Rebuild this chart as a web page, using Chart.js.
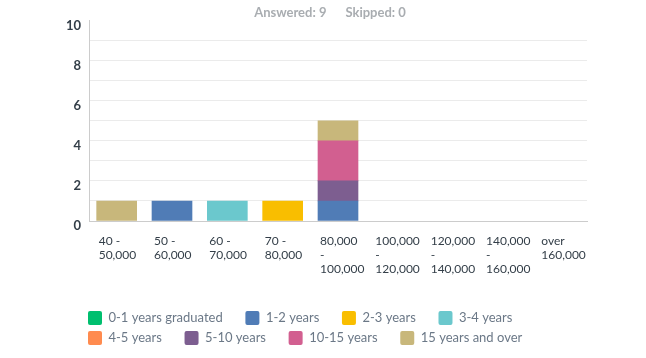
<!DOCTYPE html>
<html>
<head>
<meta charset="utf-8">
<script src="https://cdn.jsdelivr.net/npm/chart.js@4"></script>
<style>
  html, body { margin: 0; padding: 0; background: #fff; }
  #wrap { width: 646px; height: 358px; }
</style>
</head>
<body>
<div id="wrap"><canvas id="myChart"></canvas></div>
<script>
const labels = [
  ['40 -', '50,000'],
  ['50 -', '60,000'],
  ['60 -', '70,000'],
  ['70 -', '80,000'],
  ['80,000', '-', '100,000'],
  ['100,000', '-', '120,000'],
  ['120,000', '-', '140,000'],
  ['140,000', '-', '160,000'],
  ['over', '160,000']
];

const seriesNames = ['0-1 years graduated', '1-2 years', '2-3 years', '3-4 years',
  '4-5 years', '5-10 years', '10-15 years', '15 years and over'];
const seriesColors = ['#00bf6f', '#507cb6', '#f9be00', '#6bc8cd',
  '#ff8b4f', '#7d5e90', '#d25f90', '#c8b77b'];

const grad01 = [0, 0, 0, 0, 0, 0, 0, 0, 0];
const y12 = [0, 1, 0, 0, 1, 0, 0, 0, 0];
const y23 = [0, 0, 0, 1, 0, 0, 0, 0, 0];
const y34 = [0, 0, 1, 0, 0, 0, 0, 0, 0];
const y45 = [0, 0, 0, 0, 0, 0, 0, 0, 0];
const y510 = [0, 0, 0, 0, 1, 0, 0, 0, 0];
const y1015 = [0, 0, 0, 0, 2, 0, 0, 0, 0];
const y15plus = [1, 0, 0, 0, 1, 0, 0, 0, 0];
const seriesValues = [grad01, y12, y23, y34, y45, y510, y1015, y15plus];

const answered = 9;
const skipped = 0;

const data = {
  labels: labels,
  datasets: seriesNames.map((name, i) => ({
    label: name,
    // empty cells are left out so no zero-height bars get drawn
    data: seriesValues[i].map(v => (v === 0 ? null : v)),
    backgroundColor: seriesColors[i],
    borderWidth: 0,
    barThickness: 40
  }))
};

// move title/legend a bit to sit where the original has them
const nudge = {
  id: 'nudge',
  afterLayout(chart) {
    chart.legend.left -= 7;
    chart.legend.right -= 7;
    chart.titleBlock.left -= 8;
    chart.titleBlock.right -= 8;
  }
};

const config = {
  type: 'bar',
  data: data,
  plugins: [nudge],
  options: {
    responsive: true,
    maintainAspectRatio: false,
    animation: false,
    layout: { padding: { left: 0, right: 59, top: 0, bottom: 3 } },
    plugins: {
      tooltip: { enabled: false },
      title: {
        display: true,
        text: 'Answered: ' + answered + '      Skipped: ' + skipped,
        color: '#a9adb1',
        fullSize: false,
        font: { family: 'Lato', size: 13, weight: 'bold' },
        padding: { top: 5, bottom: 0 }
      },
      legend: {
        position: 'bottom',
        align: 'start',
        fullSize: false,
        labels: {
          boxWidth: 14,
          boxHeight: 14,
          padding: 6,
          useBorderRadius: true,
          borderRadius: 2,
          color: '#6b7887',
          font: { family: 'Lato', size: 13 },
          generateLabels(chart) {
            const items = Chart.defaults.plugins.legend.labels.generateLabels(chart);
            items.forEach(it => { it.text = it.text + '     '; it.lineWidth = 0; });
            return items;
          }
        }
      }
    },
    scales: {
      x: {
        stacked: true,
        grid: { display: false, drawTicks: false },
        border: { display: true, color: '#cccccc' },
        ticks: {
          align: 'start',
          labelOffset: -18,
          padding: 13,
          maxRotation: 0,
          autoSkip: false,
          color: '#333e48',
          font: { family: 'Lato', size: 12, lineHeight: '14px' }
        },
        afterFit(scale) { scale.height = 84; }
      },
      y: {
        stacked: true,
        min: 0,
        max: 10,
        grid: {
          drawTicks: false,
          color: ctx => (ctx.tick && ctx.tick.value === 10) ? 'rgba(0,0,0,0)' : '#ebebeb'
        },
        border: { display: true, color: '#cccccc' },
        ticks: {
          stepSize: 1,
          padding: 8,
          labelOffset: 5,
          color: '#333e48',
          font: { family: 'Lato', size: 13, weight: 'bold' },
          callback: v => (v % 2 === 0 ? v : '')
        },
        afterFit(scale) { scale.width = 89; }
      }
    }
  }
};

const myChart = new Chart(document.getElementById('myChart'), config);
</script>
</body>
</html>
